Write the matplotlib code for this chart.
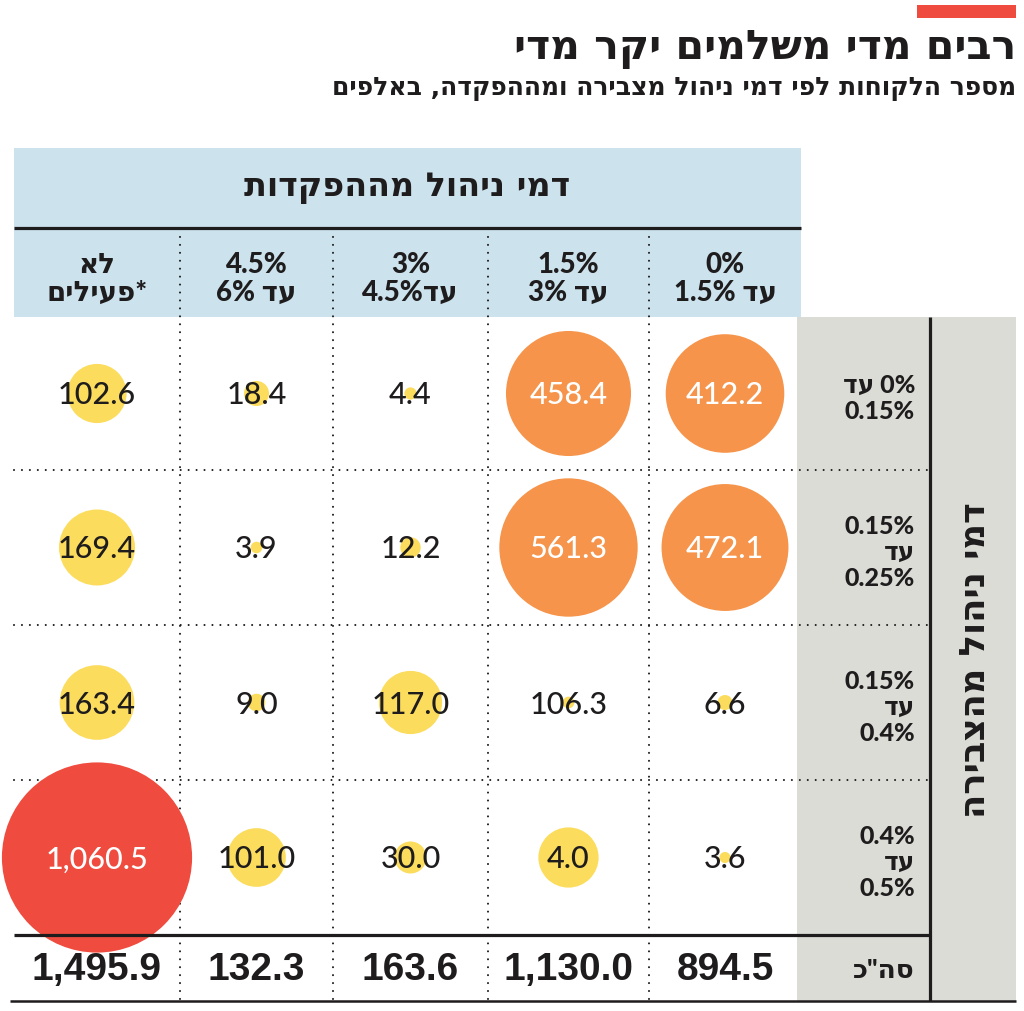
import re
import numpy as np
import matplotlib
matplotlib.use("Agg")
import matplotlib.pyplot as plt
from matplotlib.patches import Circle, Rectangle

# ---------------- data ----------------
title = "רבים מדי משלמים יקר מדי"
subtitle = "מספר הלקוחות לפי דמי ניהול מצבירה ומההפקדה, באלפים"
deposit_title = "דמי ניהול מההפקדות"
accum_title = "דמי ניהול מהצבירה"
total_label = 'סה"כ'

# deposit-fee columns, logical (right-to-left) order
deposit_fee_labels = ["0%\nעד 1.5%", "1.5%\nעד 3%", "3%\nעד4.5%", "4.5%\nעד 6%", "לא\n*פעילים"]
# accumulation-fee rows, top to bottom
accum_fee_labels = ["0% עד\n0.15%", "0.15%\nעד\n0.25%", "0.15%\nעד\n0.4%", "0.4%\nעד\n0.5%"]

clients_0_015 = [412.2, 458.4, 4.4, 18.4, 102.6]
clients_015_025 = [472.1, 561.3, 12.2, 3.9, 169.4]
clients_015_04 = [6.6, 106.3, 117.0, 9.0, 163.4]
clients_04_05 = [3.6, 4.0, 30.0, 101.0, 1060.5]
totals = [894.5, 1130.0, 163.6, 132.3, 1495.9]

# circle sizes as drawn in the graphic (the 106.3 / 4.0 circles are swapped there)
bubbles_0_015 = [412.2, 458.4, 4.4, 18.4, 102.6]
bubbles_015_025 = [472.1, 561.3, 12.2, 3.9, 169.4]
bubbles_015_04 = [6.6, 4.0, 117.0, 9.0, 163.4]
bubbles_04_05 = [3.6, 106.3, 30.0, 101.0, 1060.5]

values = [clients_0_015, clients_015_025, clients_015_04, clients_04_05]
bubbles = [bubbles_0_015, bubbles_015_025, bubbles_015_04, bubbles_04_05]

# ---------------- helpers ----------------
HEB = "\u0590-\u05FF\"'"
tok_re = re.compile(r"([%s]+|[0-9][0-9.,%%]*|[^%s0-9]+)" % (HEB, HEB))


def vis(line):
    """very small RTL reordering for display (matplotlib has no bidi)."""
    toks = tok_re.findall(line)
    out = []
    for t in reversed(toks):
        if t[0].isdigit():
            out.append(t)
        else:
            out.append(t[::-1])
    return "".join(out)


def vis_block(s):
    return "\n".join(vis(l) for l in s.split("\n"))


# ---------------- style ----------------
DARK = "#1e1c1d"
BLUE = "#cce2ed"
GRAY = "#dcdcd7"
RED = "#ef4b3e"
ORANGE = "#f5944a"
YELLOW = "#fbdc5c"

HEB_BOLD = ["DejaVu Sans"]
TOT_FONT = ["Liberation Sans", "DejaVu Sans"]
NUM_FONT = ["Lato", "DejaVu Sans"]
LBL_FONT = ["Lato", "DejaVu Sans"]

W, H = 1024, 1011
fig = plt.figure(figsize=(W / 100, H / 100), dpi=100)
ax = fig.add_axes([0, 0, 1, 1])
ax.set_xlim(0, W)
ax.set_ylim(H, 0)
ax.axis("off")

# layout
col_edges = [801, 649, 488, 333, 180, 14]          # right -> left
row_edges = [317, 470, 625, 780, 935]
total_y = (935, 1000)
col_centers = [(col_edges[i] + col_edges[i + 1]) / 2 for i in range(5)]
row_centers = [(row_edges[i] + row_edges[i + 1]) / 2 for i in range(4)]
rscale = 2.92

# top red bar
ax.add_patch(Rectangle((917, 5), 99, 13, color=RED, lw=0))
ax.text(1016, 49, vis(title), ha="right", va="center", fontsize=29.5,
        fontweight="bold", family=HEB_BOLD, color=DARK)
ax.text(1016, 89, vis(subtitle), ha="right", va="center", fontsize=18,
        fontweight="bold", family=HEB_BOLD, color=DARK)

# header band
ax.add_patch(Rectangle((14, 148), 787, 169, color=BLUE, lw=0, zorder=0))
ax.text(407, 188, vis(deposit_title), ha="center", va="center", fontsize=24,
        fontweight="bold", family=HEB_BOLD, color=DARK)
ax.plot([14, 801], [228, 228], color=DARK, lw=2.3, solid_capstyle="butt")

# gray side panel
ax.add_patch(Rectangle((797, 317), 219, 684, color=GRAY, lw=0, zorder=0))
ax.plot([930, 930], [317, 1001], color=DARK, lw=2.3, solid_capstyle="butt")
ax.text(975, 660, vis(accum_title), ha="center", va="center", rotation=90,
        fontsize=25.5, fontweight="bold", family=HEB_BOLD, color=DARK)

# dotted grid
dot = dict(color=DARK, lw=1.5, linestyle=(0, (0.01, 3.8)), dash_capstyle="round")
for x in col_edges[1:-1]:
    ax.plot([x, x], [229, 1000], **dot)
for y in row_edges[1:-1]:
    ax.plot([14, 928], [y, y], **dot)

# solid rules
ax.plot([14, 930], [935, 935], color=DARK, lw=2.3, solid_capstyle="butt", zorder=5)
ax.plot([10, 1016], [1001, 1001], color=DARK, lw=1.8, solid_capstyle="butt")

# column headers
for j, lab in enumerate(deposit_fee_labels):
    ax.text(col_centers[j], 279, vis_block(lab), ha="center", va="center",
            multialignment="center", fontsize=20, fontweight="black",
            family=LBL_FONT, color=DARK, linespacing=1.1)

# row labels
for i, lab in enumerate(accum_fee_labels):
    ax.text(915, row_centers[i] + 5, vis_block(lab), ha="right", va="center",
            multialignment="right", fontsize=18, fontweight="black",
            family=LBL_FONT, color=DARK, linespacing=1.15)

# bubbles and values
for i in range(4):
    for j in range(5):
        b = bubbles[i][j]
        v = values[i][j]
        if b >= 1000:
            c, tc = RED, "white"
        elif b >= 400:
            c, tc = ORANGE, "white"
        else:
            c, tc = YELLOW, DARK
        ax.add_patch(Circle((col_centers[j], row_centers[i]), rscale * np.sqrt(b),
                            color=c, lw=0, zorder=2))
        ax.text(col_centers[j], row_centers[i] + 2, f"{v:,.1f}", ha="center",
                va="center", fontsize=22, fontweight="medium", family=NUM_FONT,
                color=tc, zorder=6)

# totals row
ty = (total_y[0] + total_y[1]) / 2 + 2
for j, t in enumerate(totals):
    ax.text(col_centers[j], ty, f"{t:,.1f}", ha="center", va="center",
            fontsize=28, fontweight="bold", family=TOT_FONT, color=DARK)
ax.text(915, ty, vis(total_label), ha="right", va="center", fontsize=19,
        fontweight="black", family=LBL_FONT, color=DARK)

fig.savefig("out.png", dpi=100)
